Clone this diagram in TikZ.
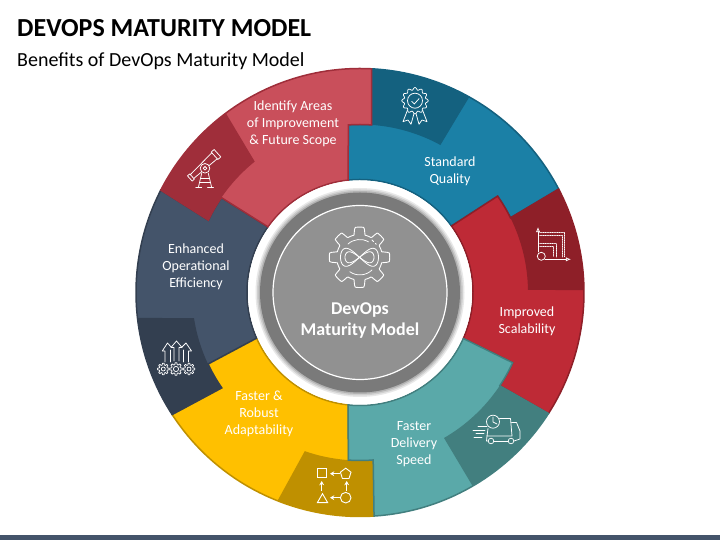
\documentclass[tikz,border=0pt]{standalone}
\usepackage{fontspec}
\setmainfont{Carlito}
\usepackage{tikz}
\usetikzlibrary{arrows.meta}

\definecolor{qualitymain}{HTML}{1B80A6}
\definecolor{qualitydark}{HTML}{14617F}
\definecolor{scalemain}{HTML}{BE2A36}
\definecolor{scaledark}{HTML}{8E1F28}
\definecolor{speedmain}{HTML}{5AA9A9}
\definecolor{speeddark}{HTML}{427F7F}
\definecolor{adaptmain}{HTML}{FFC000}
\definecolor{adaptdark}{HTML}{BF9000}
\definecolor{effmain}{HTML}{44546A}
\definecolor{effdark}{HTML}{333F50}
\definecolor{scopemain}{HTML}{C94F5B}
\definecolor{scopedark}{HTML}{9F2E3A}

\newcommand{\Ro}{224}
\newcommand{\Rm}{168}
\newcommand{\Ri}{113}

\tikzset{
  segment/.style 2 args={fill=#1,draw=#2,line width=1.5pt,line join=miter},
  seglabel/.style={text=white,align=center,font=\fontsize{14}{17}\selectfont},
  iconline/.style={draw=white,line width=0.75pt,line join=round,line cap=round},
  icontip/.style={iconline,-{Latex[length=1.8mm,width=1.5mm,open,fill=none]}},
  shapetip/.style={draw=white,line width=0.9pt,-{Stealth[length=1.5mm,width=1.7mm]}},
  px/.style={shift={(0,540)},yscale=-1}
}

\begin{document}
\begin{tikzpicture}[x=1pt,y=1pt]
  \useasboundingbox (0,0) rectangle (720,540);
  \fill[effmain] (0,0) rectangle (720,5);
  \node[anchor=base west,inner sep=0pt,font=\fontsize{26}{30}\selectfont\bfseries] (title) at (17,503) {DEVOPS MATURITY MODEL};
  \node[anchor=base west,inner sep=0pt,font=\fontsize{20}{24}\selectfont] (subtitle) at (17,473.5) {Benefits of DevOps Maturity Model};

  % ring segments, lowest first
  \begin{scope}[shift={(360,247.5)}]
    \draw[segment={qualitymain}{qualitydark}] (96:\Ri) -- (94:\Rm) arc[start angle=94,end angle=86,radius=\Rm] -- (87:\Ro)
      arc[start angle=87,end angle=27.5,radius=\Ro] -- (26.4:\Rm) arc[start angle=26.4,end angle=35,radius=\Rm] -- (36:\Ri)
      arc[start angle=36,end angle=96,radius=\Ri] -- cycle;
    \fill[qualitydark] (87:\Ro) arc[start angle=87,end angle=60.8,radius=\Ro] -- (61.4:\Rm) arc[start angle=61.4,end angle=86,radius=\Rm] -- cycle;

    \draw[segment={adaptmain}{adaptdark}] (203.8:\Ri) -- (205.2:\Rm) arc[start angle=205.2,end angle=214.6,radius=\Rm] -- (213:\Ro)
      arc[start angle=213,end angle=273.6,radius=\Ro] -- (274.5:\Rm) arc[start angle=274.5,end angle=266,radius=\Rm] -- (264:\Ri)
      arc[start angle=264,end angle=203.8,radius=\Ri] -- cycle;
    \fill[adaptdark] (273.6:\Ro) arc[start angle=273.6,end angle=248.4,radius=\Ro] -- (250.8:\Rm) arc[start angle=250.8,end angle=274.5,radius=\Rm] -- cycle;

    \draw[segment={effmain}{effdark}] (144.5:\Ri) -- (145.6:\Rm) arc[start angle=145.6,end angle=154.5,radius=\Rm] -- (152.8:\Ro)
      arc[start angle=152.8,end angle=213,radius=\Ro] -- (214.6:\Rm) arc[start angle=214.6,end angle=205.2,radius=\Rm] -- (203.8:\Ri)
      arc[start angle=203.8,end angle=144.5,radius=\Ri] -- cycle;
    \fill[effdark] (213:\Ro) arc[start angle=213,end angle=186.5,radius=\Ro] -- (188.8:\Rm) arc[start angle=188.8,end angle=214.6,radius=\Rm] -- cycle;

    \draw[segment={scopemain}{scopedark}] (96:\Ri) -- (94:\Rm) arc[start angle=94,end angle=86,radius=\Rm] -- (87:\Ro)
      arc[start angle=87,end angle=152.8,radius=\Ro] -- (154.5:\Rm) arc[start angle=154.5,end angle=145.6,radius=\Rm] -- (144.5:\Ri)
      arc[start angle=144.5,end angle=96,radius=\Ri] -- cycle;
    \fill[scopedark] (152.8:\Ro) arc[start angle=152.8,end angle=126.8,radius=\Ro] -- (128.8:\Rm) arc[start angle=128.8,end angle=154.5,radius=\Rm] -- cycle;

    \draw[segment={scalemain}{scaledark}] (36:\Ri) -- (35:\Rm) arc[start angle=35,end angle=26.4,radius=\Rm] -- (27.5:\Ro)
      arc[start angle=27.5,end angle=-32.7,radius=\Ro] -- (-33.7:\Rm) arc[start angle=-33.7,end angle=-24.7,radius=\Rm] -- (-24:\Ri)
      arc[start angle=-24,end angle=36,radius=\Ri] -- cycle;
    \fill[scaledark] (27.5:\Ro) arc[start angle=27.5,end angle=0.6,radius=\Ro] -- (0.9:\Rm) arc[start angle=0.9,end angle=26.4,radius=\Rm] -- cycle;

    \draw[segment={speedmain}{speeddark}] (-24:\Ri) -- (-24.7:\Rm) arc[start angle=-24.7,end angle=-33.7,radius=\Rm] -- (-32.7:\Ro)
      arc[start angle=-32.7,end angle=-86.4,radius=\Ro] -- (-85.5:\Rm) arc[start angle=-85.5,end angle=-94,radius=\Rm] -- (-96:\Ri)
      arc[start angle=-96,end angle=-24,radius=\Ri] -- cycle;
    \fill[speeddark] (-32.7:\Ro) arc[start angle=-32.7,end angle=-59.8,radius=\Ro] -- (-60:\Rm) arc[start angle=-60,end angle=-33.7,radius=\Rm] -- cycle;

    % centre disc with its soft edge
    \fill[white] (0,0) circle (112);
    \fill[gray!18] (0,0) circle (104.5);
    \fill[gray!38] (0,0) circle (103);
    \fill[gray!60] (0,0) circle (101.5);
    \fill[black!52] (0,0) circle (100);
    \draw[white,line width=1.2pt,fill=black!43] (0,0) circle (87);
  \end{scope}

  % segment labels
  \node[seglabel] (quality) at (450,368.5) {Standard\\Quality};
  \node[seglabel] (scalability) at (527,218.5) {Improved\\Scalability};
  \node[seglabel] (speed) at (414,95.5) {Faster\\Delivery\\Speed};
  \node[seglabel] (adapt) at (259,126) {Faster \&\\Robust\\Adaptability};
  \node[seglabel] (efficiency) at (196,273) {Enhanced\\Operational\\Efficiency};
  \node[seglabel] (improve) at (293,416) {Identify Areas\\of Improvement\\\& Future Scope};
  \node[text=white,align=center,font=\fontsize{18}{21}\selectfont\bfseries] (centre) at (360,219.5) {DevOps\\Maturity Model};

  % icons, written in picture pixels
  \begin{scope}[px]
    % rosette
    \draw[iconline] plot[domain=0:360,samples=145] ({415+(12+1.2*cos(12*\x))*cos(\x)},{100.7+(12+1.2*cos(12*\x))*sin(\x)}) -- cycle;
    \draw[iconline] (415,100.7) circle (7.5);
    \draw[iconline] (411.7,101.3) -- (414.3,104) -- (419,98.7);
    \draw[iconline] (407.5,110) -- (403,121.7) -- (408,120) -- (411,124.3) -- (414,113.5);
    \draw[iconline] (422.5,110) -- (427,121.7) -- (422,120) -- (419,124.3) -- (416,113.5);

    % growth chart
    \draw[icontip] (538,252) -- (538,227);
    \draw[iconline] (541.3,256.3) circle (4);
    \draw[icontip] (545,259.3) -- (571,259.3);
    \draw[iconline,densely dotted] (539.7,232) -- (564.7,232) -- (564.7,257);
    \draw[iconline,densely dotted] (539.7,235) -- (562,235) -- (562,257);
    \draw[iconline,densely dotted] (539.7,243.7) -- (556.3,243.7) -- (556.3,257);
    \draw[iconline,densely dotted] (539.7,246.5) -- (553.5,246.5) -- (553.5,257);

    % truck
    \draw[iconline] (493,421.7) circle (6.5);
    \draw[iconline] (493,417) -- (493,422) -- (497,424);
    \draw[iconline] (499.5,418.5) -- (510.5,418.5) -- (512,436) -- (487,436) -- (488,428.5);
    \draw[iconline] (511.5,422.5) -- (516.5,422.5) -- (520,431) -- (520,439) -- (514,441);
    \draw[iconline] (487,436) -- (486.5,441) -- (488.3,441);
    \draw[iconline] (493.8,441) -- (508,441);
    \draw[iconline] (491,441) circle (2.8);
    \draw[iconline] (511,441) circle (2.8);
    \draw[iconline] (478,426.5) -- (487,426.5);
    \draw[iconline] (473,430) -- (485,430);
    \draw[iconline] (476,433.5) -- (484,433.5);
    \draw[iconline] (474,437) -- (482,437);

    % shapes
    \draw[draw=white,line width=0.9pt] (317.5,468.7) rectangle (326.7,477.7);
    \draw[draw=white,line width=0.9pt] (345.7,468.2) -- (351,472.2) -- (349,478.5) -- (342.4,478.5) -- (340.4,472.2) -- cycle;
    \draw[draw=white,line width=0.9pt] (345.7,497.7) circle (5.3);
    \draw[draw=white,line width=0.9pt] (322.5,493.7) -- (317.3,502.7) -- (327.7,502.7) -- cycle;
    \draw[shapetip] (339.5,473.7) -- (330,473.7);
    \draw[shapetip] (339.5,497.7) -- (330,497.7);
    \draw[shapetip] (321.7,491) -- (321.7,481);
    \draw[shapetip] (346.7,491) -- (346.7,481);

    % gears and arrows
    \draw[iconline] plot[domain=0:360,samples=145] ({163.3+(4.9+0.8*max(-1,min(1,3*cos(8*\x))))*cos(\x)},{369+(4.9+0.8*max(-1,min(1,3*cos(8*\x))))*sin(\x)}) -- cycle;
    \draw[iconline] plot[domain=0:360,samples=145] ({176+(5.4+0.9*max(-1,min(1,3*cos(8*\x))))*cos(\x)},{369+(5.4+0.9*max(-1,min(1,3*cos(8*\x))))*sin(\x)}) -- cycle;
    \draw[iconline] plot[domain=0:360,samples=145] ({189+(4.9+0.8*max(-1,min(1,3*cos(8*\x))))*cos(\x)},{369+(4.9+0.8*max(-1,min(1,3*cos(8*\x))))*sin(\x)}) -- cycle;
    \draw[iconline] (163.3,369) circle (2);
    \draw[iconline] (176,369) circle (2.6);
    \draw[iconline] (189,369) circle (2);
    \draw[iconline] (165,362) -- (165,351) -- (162.3,351) -- (167.5,343) -- (171.5,347.5);
    \draw[iconline] (170,362) -- (170,350);
    \draw[iconline] (174,361) -- (174,347.5) -- (171,347.5) -- (176.5,341) -- (182,347.5) -- (179,347.5) -- (179,361);
    \draw[iconline] (183,362) -- (183,350);
    \draw[iconline] (188.5,362) -- (188.5,351) -- (191.5,351) -- (186,343) -- (181.5,347.5);

    % telescope
    \draw[iconline] (220.8,156.9) -- (217.9,159.5) -- (211.2,152.1) -- (214.1,149.5) -- cycle;
    \draw[iconline] (217.2,158.8) -- (193.8,178.4);
    \draw[iconline] (211.8,152.8) -- (190.4,174.6);
    \draw[iconline] (194.4,179.1) -- (192.2,181.1) -- (187.5,175.9) -- (189.7,173.9) -- cycle;
    \draw[iconline,fill=scopedark] (205,168.3) circle (4.8);
    \draw[iconline] (205,168.3) circle (1.8);
    \draw[iconline] (201.7,173.3) -- (198.3,187.7);
    \draw[iconline] (208.3,173.3) -- (211.7,187.7);
    \draw[iconline] (200.5,178.3) -- (209.5,178.3);
    \draw[iconline] (199.5,182.7) -- (210.5,182.7);
    \draw[iconline] (195.7,187.7) -- (201.7,187.7);
    \draw[iconline] (207.5,187.7) -- (213.5,187.7);

    % centre gear with the infinity loop
    \draw[iconline,line width=0.9pt] plot[domain=0:360,samples=181] ({359.5+(26.5+3.7*max(-1,min(1,3*cos(8*\x))))*cos(\x)},{257.3+(26.5+3.7*max(-1,min(1,3*cos(8*\x))))*sin(\x)}) -- cycle;
    \draw[iconline,line width=0.8pt,smooth] plot[domain=0:360,samples=73] ({359.5+19*cos(\x)},{257.3+9*sin(2*\x)});
    \draw[iconline,line width=0.8pt,smooth] plot[domain=0:360,samples=73] ({359.5+14.5*cos(\x)},{257.3+5.5*sin(2*\x)});
    \draw[iconline] (348,244) arc[start angle=228,end angle=300,radius=17.5];
    \draw[iconline] (372,270) arc[start angle=46,end angle=125,radius=17.5];
    \draw[iconline] (372,240) -- (373.5,241.5);
    \draw[iconline] (375.5,243.5) -- (376.3,244.3);
  \end{scope}
\end{tikzpicture}
\end{document}
